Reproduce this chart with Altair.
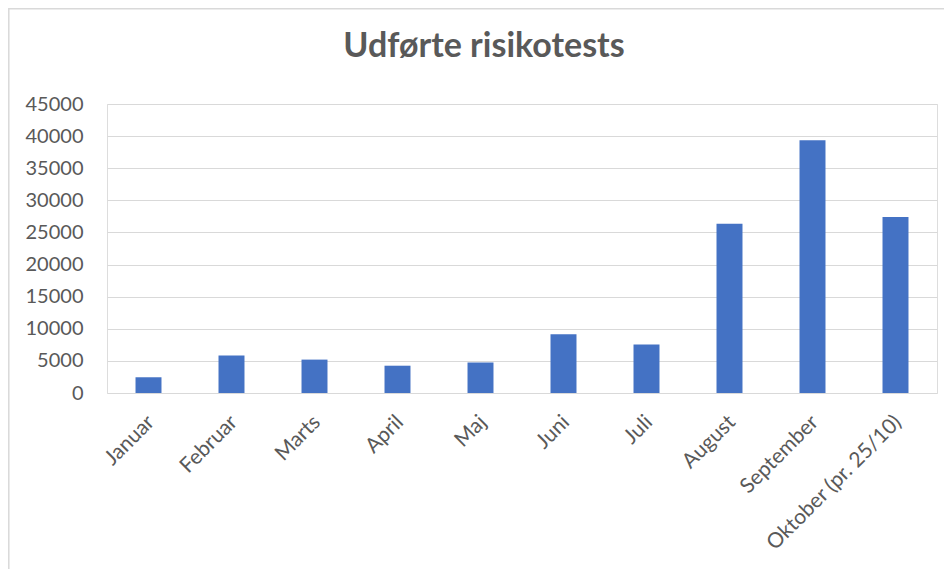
import altair as alt
import pandas as pd

months = ["Januar", "Februar", "Marts", "April", "Maj", "Juni", "Juli",
          "August", "September", "Oktober (pr. 25/10)"]
tests = [2450, 5850, 5200, 4250, 4750, 9150, 7550, 26350, 39350, 27400]
y_ticks = [0, 5000, 10000, 15000, 20000, 25000, 30000, 35000, 40000, 45000]

df = pd.DataFrame({"month": months, "tests": tests})

FONT = "Lato"
TXT = "#595959"

bars = alt.Chart(df).mark_bar(color="#4472C4").encode(
    x=alt.X("month:N", sort=months,
            scale=alt.Scale(paddingInner=0.687, paddingOuter=0.3435),
            axis=alt.Axis(title=None, labelAngle=-45, labelFontSize=21,
                          labelColor=TXT, labelFont=FONT, ticks=False,
                          domain=False, labelPadding=18, labelOffset=-5,
                          labelLimit=400, grid=False)),
    y=alt.Y("tests:Q", scale=alt.Scale(domain=[0, 45000], nice=False),
            axis=alt.Axis(title=None, values=y_ticks, format="d",
                          labelFontSize=20, labelColor=TXT, labelFont=FONT,
                          ticks=False, domain=False, labelPadding=24,
                          grid=True, gridColor="#D9D9D9", gridWidth=1)),
)

border = alt.Chart(alt.Data(values=[{"a": 1}])).mark_rect(
    fill="white", fillOpacity=0, stroke="#D9D9D9", strokeWidth=1.5
).encode(
    x=alt.value(-98.2), x2=alt.value(900),
    y=alt.value(-95.2), y2=alt.value(600),
)

chart = alt.layer(border, bars).properties(
    width=830, height=289,
    title=alt.TitleParams("Udførte risikotests", font=FONT, fontSize=34,
                          fontWeight="bold", color=TXT, anchor="middle",
                          baseline="alphabetic", dx=-38, offset=-83),
    autosize=alt.AutoSizeParams(type="none"),
    padding={"left": 99, "top": 96, "right": 7, "bottom": 176},
).configure_view(stroke="transparent", strokeWidth=0).configure(background="white")

chart.save("out.html", embed_options={"renderer": "svg", "actions": False})
